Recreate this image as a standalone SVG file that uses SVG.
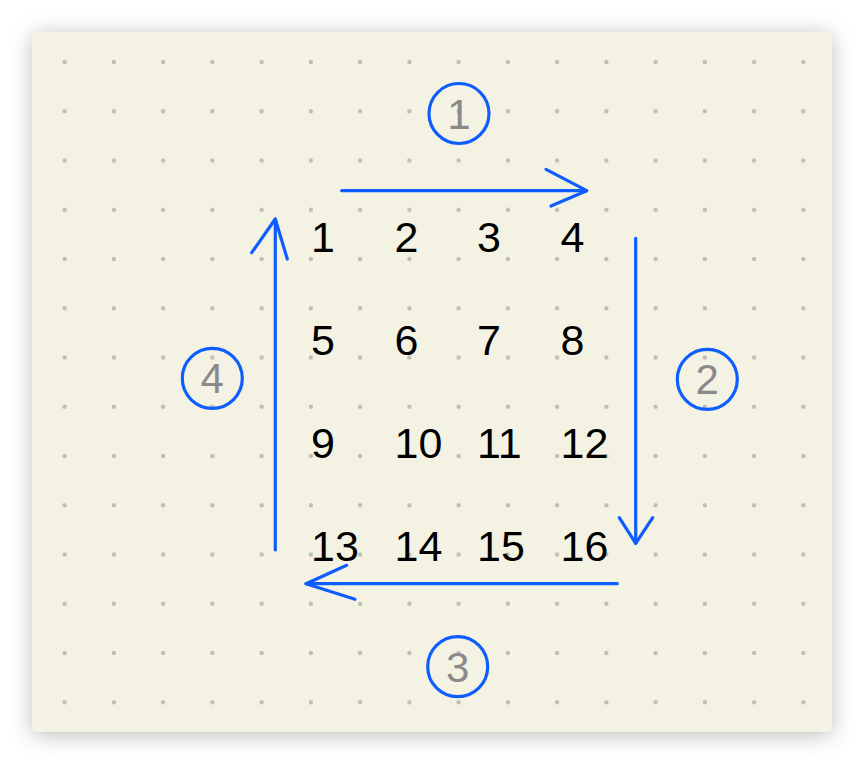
<svg xmlns="http://www.w3.org/2000/svg" width="864" height="764" viewBox="0 0 864 764">
  <defs>
    <filter id="shadow" x="-10%" y="-10%" width="120%" height="125%">
      <feDropShadow dx="0" dy="3" stdDeviation="11" flood-color="#000" flood-opacity="0.26"/>
    </filter>
    <pattern id="dots" patternUnits="userSpaceOnUse" x="40" y="37.4" width="49.25" height="49.25">
      <circle cx="24.6" cy="24.6" r="2.2" fill="#bfbdb2"/>
    </pattern>
    <style>
      .num { font-family: "Liberation Sans", Arial, Helvetica, sans-serif; font-size: 43px; fill: #000; }
      .lbl { font-family: "Liberation Sans", Arial, Helvetica, sans-serif; font-size: 42px; fill: #8a8a8a; text-anchor: middle; }
      .ring { fill: none; stroke: #0d5dff; stroke-width: 3.2; }
      .arrow { fill: none; stroke: #0d5dff; stroke-width: 3.2; stroke-linecap: round; stroke-linejoin: round; }
    </style>
  </defs>
  <rect x="0" y="0" width="864" height="764" fill="#ffffff"/>
  <rect id="card" x="32" y="32" width="800" height="700" rx="6" fill="#f4f3e3" filter="url(#shadow)"/>
  <rect x="32" y="32" width="800" height="700" rx="6" fill="url(#dots)"/>

  <g id="grid-numbers">
    <g id="n1"><text class="num" x="311" y="252">1</text></g>
    <g id="n2"><text class="num" x="394.5" y="252">2</text></g>
    <g id="n3"><text class="num" x="477" y="252">3</text></g>
    <g id="n4"><text class="num" x="560.5" y="252">4</text></g>
    <g id="n5"><text class="num" x="311" y="355">5</text></g>
    <g id="n6"><text class="num" x="394.5" y="355">6</text></g>
    <g id="n7"><text class="num" x="477" y="355">7</text></g>
    <g id="n8"><text class="num" x="560.5" y="355">8</text></g>
    <g id="n9"><text class="num" x="311" y="458">9</text></g>
    <g id="n10"><text class="num" x="394.5" y="458">10</text></g>
    <g id="n11"><text class="num" x="477" y="458">11</text></g>
    <g id="n12"><text class="num" x="560.5" y="458">12</text></g>
    <g id="n13"><text class="num" x="311" y="561">13</text></g>
    <g id="n14"><text class="num" x="394.5" y="561">14</text></g>
    <g id="n15"><text class="num" x="477" y="561">15</text></g>
    <g id="n16"><text class="num" x="560.5" y="561">16</text></g>
  </g>

  <g id="step1"><circle class="ring" cx="459" cy="113.5" r="30"/><text class="lbl" x="459" y="128.5">1</text></g>
  <g id="step2"><circle class="ring" cx="707.3" cy="379.3" r="30"/><text class="lbl" x="707.3" y="394.3">2</text></g>
  <g id="step3"><circle class="ring" cx="457.7" cy="666.7" r="30"/><text class="lbl" x="457.7" y="681.7">3</text></g>
  <g id="step4"><circle class="ring" cx="212.3" cy="378.3" r="30"/><text class="lbl" x="212.3" y="393.3">4</text></g>

  <g id="connectors">
    <line class="arrow" x1="341.7" y1="190.7" x2="586.7" y2="190.7"/>
    <polyline class="arrow" points="546,169.3 586.7,190.7 551,206"/>
    <line class="arrow" x1="635.7" y1="238.3" x2="635.7" y2="543.3"/>
    <polyline class="arrow" points="619.3,517.7 635.7,543.3 652.7,517.7"/>
    <line class="arrow" x1="617.3" y1="583.7" x2="306" y2="583.7"/>
    <polyline class="arrow" points="346.7,565.3 306,583.7 355,599.3"/>
    <line class="arrow" x1="275.3" y1="550" x2="275.3" y2="219"/>
    <polyline class="arrow" points="251.7,252.7 275.3,219 287.3,259"/>
  </g>
</svg>
